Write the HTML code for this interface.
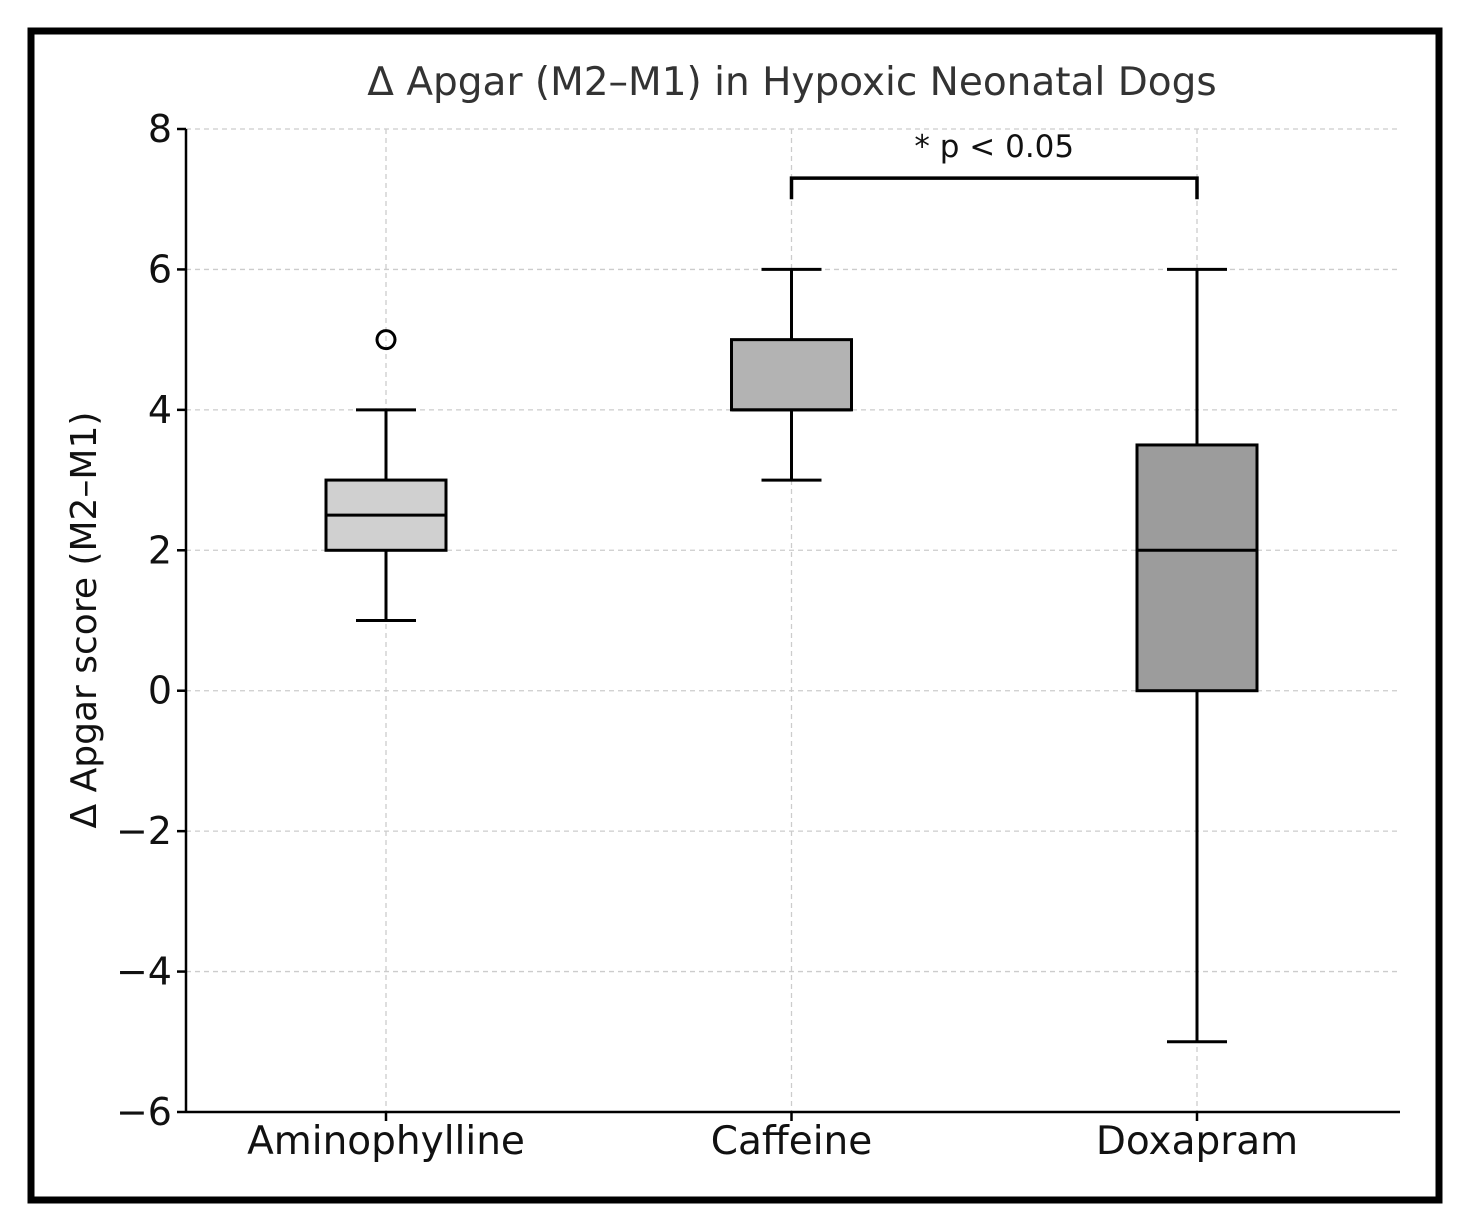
<!DOCTYPE html>
<html><head><meta charset="utf-8"><style>
html,body{margin:0;padding:0;background:#fff;}
svg{display:block;font-family:"DejaVu Sans","Liberation Sans",sans-serif;}
</style></head><body>
<svg id="chart" width="1468" height="1231" viewBox="0 0 1468 1231">
<rect x="31" y="31" width="1408" height="1169" fill="none" stroke="#000" stroke-width="7"/>
<text x="792" y="95" text-anchor="middle" font-size="39" fill="#333">Δ Apgar (M2–M1) in Hypoxic Neonatal Dogs</text>
<text transform="translate(96,620) rotate(-90)" text-anchor="middle" font-size="36" fill="#111">Δ Apgar score (M2–M1)</text>
<g id="grid"></g>
<g id="axes"></g>
<g id="boxes"></g>
<g id="sig"></g>
</svg>
<script>
const categories = ["Aminophylline","Caffeine","Doxapram"];
const q1Values = [2, 4, 0];
const q3Values = [3, 5, 3.5];
const medians = [2.5, 4, 2];
const whiskerLow = [1, 3, -5];
const whiskerHigh = [4, 6, 6];
const outliers = [[5], [], []];
const fills = ["#d0d0d0", "#b3b3b3", "#9c9c9c"];
const yTicks = [8, 6, 4, 2, 0, -2, -4, -6];
const sigPair = [1, 2];
const sigLevel = 7.3;
const sigLabel = "* p < 0.05";

const NS = "http://www.w3.org/2000/svg";
const plotLeft = 186, plotRight = 1400, plotTop = 129, plotBottom = 1112;
const yMin = -6, yMax = 8;
const yScale = v => plotBottom - (v - yMin) / (yMax - yMin) * (plotBottom - plotTop);
const xStart = 386, xStep = 405.5;
const xScale = i => xStart + i * xStep;
function el(tag, attrs, parent) {
  const e = document.createElementNS(NS, tag);
  for (const k in attrs) e.setAttribute(k, attrs[k]);
  parent.appendChild(e);
  return e;
}
const grid = document.getElementById("grid");
const axes = document.getElementById("axes");
const boxes = document.getElementById("boxes");
const sig = document.getElementById("sig");

yTicks.forEach(t => {
  const g = el("line", {x1: plotLeft, x2: plotRight, y1: yScale(t), y2: yScale(t), stroke: "#ccc", "stroke-width": 1.3, "stroke-dasharray": "5,4"}, grid);
  
  
  const tk = el("line", {x1: plotLeft - 9, x2: plotLeft, y1: yScale(t), y2: yScale(t), stroke: "#000", "stroke-width": 2.5}, axes);
  
  
  const lb = el("text", {x: plotLeft - 14, y: yScale(t) + 13, "text-anchor": "end", "font-size": 38, fill: "#111"}, axes);
  lb.textContent = t < 0 ? "−" + Math.abs(t) : String(t);
  
  
});
categories.forEach((c, i) => {
  const g = el("line", {x1: xScale(i), x2: xScale(i), y1: plotTop, y2: plotBottom, stroke: "#ccc", "stroke-width": 1.3, "stroke-dasharray": "5,4"}, grid);
  
  
  const tk = el("line", {x1: xScale(i), x2: xScale(i), y1: plotBottom, y2: plotBottom + 9, stroke: "#000", "stroke-width": 2.5}, axes);
  
  
  const lb = el("text", {x: xScale(i), y: plotBottom + 42, "text-anchor": "middle", "font-size": 39, fill: "#111"}, axes);
  lb.textContent = c;
  
  
});
const sl = el("line", {x1: plotLeft, x2: plotLeft, y1: plotTop, y2: plotBottom, stroke: "#000", "stroke-width": 2.5}, axes);


const sb = el("line", {x1: plotLeft, x2: plotRight, y1: plotBottom, y2: plotBottom, stroke: "#000", "stroke-width": 2.5}, axes);



const hw = 60, cap = 30;
categories.forEach((c, i) => {
  const cx = xScale(i);
  const g = el("g", {}, boxes);
  
  
  const s = {stroke: "#000", "stroke-width": 3};
  el("line", Object.assign({x1: cx, x2: cx, y1: yScale(whiskerHigh[i]), y2: yScale(q3Values[i])}, s), g);
  el("line", Object.assign({x1: cx, x2: cx, y1: yScale(q1Values[i]), y2: yScale(whiskerLow[i])}, s), g);
  el("line", Object.assign({x1: cx - cap, x2: cx + cap, y1: yScale(whiskerHigh[i]), y2: yScale(whiskerHigh[i])}, s), g);
  el("line", Object.assign({x1: cx - cap, x2: cx + cap, y1: yScale(whiskerLow[i]), y2: yScale(whiskerLow[i])}, s), g);
  el("rect", Object.assign({x: cx - hw, y: yScale(q3Values[i]), width: 2 * hw, height: yScale(q1Values[i]) - yScale(q3Values[i]), fill: fills[i]}, s), g);
  el("line", Object.assign({x1: cx - hw, x2: cx + hw, y1: yScale(medians[i]), y2: yScale(medians[i])}, s), g);
  outliers[i].forEach(o => {
    const p = el("circle", {cx: cx, cy: yScale(o), r: 9, fill: "none", stroke: "#000", "stroke-width": 3}, g);
    
    
  });
});

const bx1 = xScale(sigPair[0]), bx2 = xScale(sigPair[1]), by = yScale(sigLevel), bl = yScale(sigLevel - 0.3);
const br = el("polyline", {points: `${bx1},${bl} ${bx1},${by} ${bx2},${by} ${bx2},${bl}`, fill: "none", stroke: "#000", "stroke-width": 3.5}, sig);


const st = el("text", {x: (bx1 + bx2) / 2, y: by - 21, "text-anchor": "middle", "font-size": 31, fill: "#111"}, sig);
st.textContent = sigLabel;


</script>
</body></html>
